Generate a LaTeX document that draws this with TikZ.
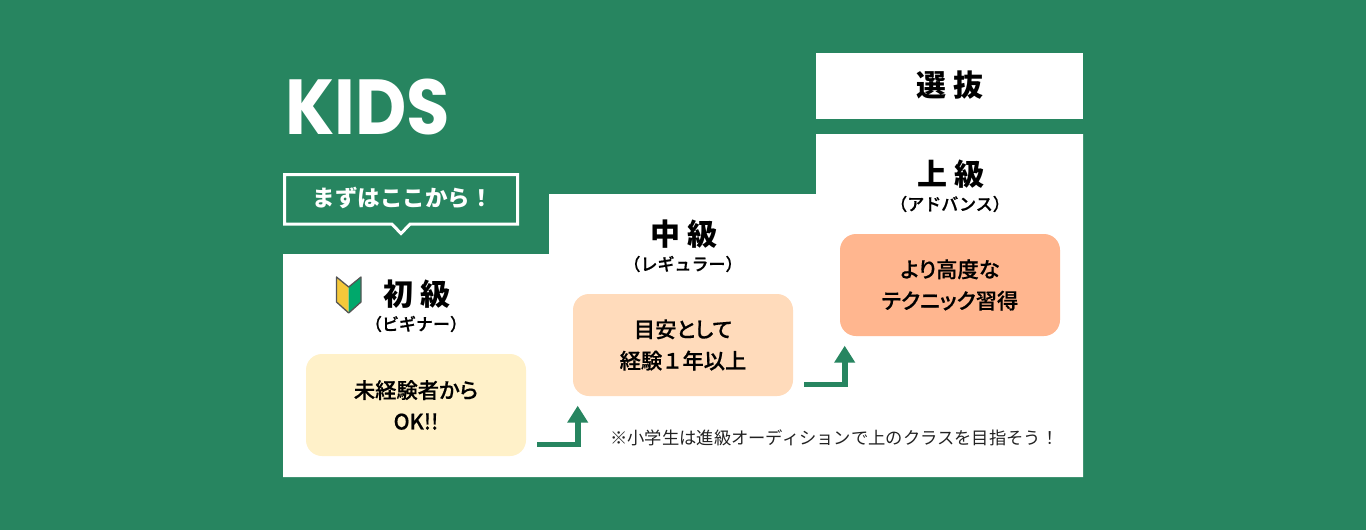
\documentclass[tikz,border=0pt]{standalone}
\usepackage{fontspec}
\setmainfont{Noto Sans CJK JP}
\newfontfamily\kidsfont{Poppins}
\newfontfamily\medfont[FakeBold=0.5,RawFeature=+palt]{Noto Sans CJK JP Medium}
\newfontfamily\subfont[FakeBold=0.8]{Noto Sans CJK JP Medium}
\usetikzlibrary{arrows.meta}
\definecolor{bggreen}{HTML}{278560}
\definecolor{boxa}{HTML}{FFF1C9}
\definecolor{boxb}{HTML}{FFDBBB}
\definecolor{boxc}{HTML}{FFB68F}
\definecolor{markyellow}{HTML}{F5C83A}
\definecolor{markgreen}{HTML}{00A86B}
\definecolor{markedge}{HTML}{555555}
\definecolor{notecol}{HTML}{222222}
\newcommand{\fsz}[1]{\fontsize{#1pt}{#1pt}\selectfont}
\tikzset{
  x=1pt,y=-1pt,
  lvlbox/.style={rounded corners=16pt,minimum width=220pt,minimum height=102pt,inner sep=0pt,align=center,font=\medfont\fsz{21.3},text=black},
  lvltitle/.style={inner sep=0pt,font=\fsz{30}\bfseries,text=black},
  lvlsub/.style={inner sep=0pt,font=\subfont\fsz{17},text=black},
  steparrow/.style={draw=bggreen,line width=5.8pt,-{Triangle[width=20pt,length=17pt]}},
}
\begin{document}
\begin{tikzpicture}
\useasboundingbox (0,0) rectangle (1366,530);
\fill[bggreen] (0,0) rectangle (1366,530);
% staircase
\fill[white] (283,254) -- (549,254) -- (549,194) -- (816,194) -- (816,134) -- (1083,134) -- (1083,477) -- (283,477) -- cycle;
\fill[white] (816,53) rectangle (1083,119);
% logo
\node[inner sep=0pt,text=white,font=\kidsfont\fsz{78}\bfseries,xscale=0.905] (kids) at (367.5,107.5) {KIDS};
% callout
\draw[white,line width=3pt,miter limit=10] (284.5,174.5) -- (517.5,174.5) -- (517.5,224.2) -- (410,224.2) -- (401,233.5) -- (392,224.2) -- (284.5,224.2) -- cycle;
\node[inner sep=0pt,text=white,font=\fsz{22.5}\bfseries] (start) at (402.5,198) {まずはここから！};
% select
\node[inner sep=0pt,font=\fsz{30}\bfseries] (sel) at (950,85) {選\hspace{8pt}抜};
% titles
\node[lvltitle] (t1) at (417,294) {初\hspace{8pt}級};
\node[lvlsub] (s1) at (416,324) {（ビギナー）};
\node[lvltitle] (t2) at (684,234) {中\hspace{8pt}級};
\node[lvlsub] (s2) at (683,264) {（レギュラー）};
\node[lvltitle] (t3) at (951,174) {上\hspace{8pt}級};
\node[lvlsub] (s3) at (950,204) {（アドバンス）};
% level boxes
\node[lvlbox,fill=boxa] (b1) at (416,405) {未経験者から\\[10pt]OK!!};
\node[lvlbox,fill=boxb] (b2) at (683,345) {目安として\\[10pt]経験\hspace{2pt}１\hspace{2pt}年以上};
\node[lvlbox,fill=boxc] (b3) at (950,285) {より高度な\\[10pt]テクニック習得};
% beginner mark
\fill[markyellow] (336.5,277) -- (348.7,287) -- (348.7,313) -- (336.5,302) -- cycle;
\fill[markgreen] (361,277) -- (348.7,287) -- (348.7,313) -- (361,302) -- cycle;
\draw[markedge,line width=1.3pt,line join=round] (336.5,277) -- (348.7,287) -- (361,277) -- (361,302) -- (348.7,313) -- (336.5,302) -- cycle;
% arrows
\coordinate (a1s) at (537,444.5);
\coordinate (a1e) at (577.7,405.7);
\coordinate (a2s) at (804,384.5);
\coordinate (a2e) at (844.7,345.7);
\draw[steparrow] (a1s) -| (a1e);
\draw[steparrow] (a2s) -| (a2e);
% note
\node[inner sep=0pt,anchor=west,text=notecol,font=\fsz{17.3}] (note) at (610,438) {※小学生は進級オーディションで上のクラスを目指そう！};
\end{tikzpicture}
\end{document}
